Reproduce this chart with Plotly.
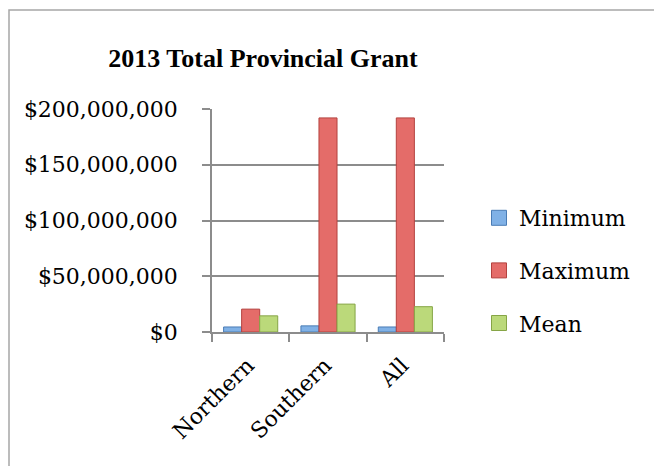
import plotly.graph_objects as go

categories = ["Northern", "Southern", "All"]
series_names = ["Minimum", "Maximum", "Mean"]
minimum = [4_500_000, 5_500_000, 4_500_000]
maximum = [20_500_000, 192_000_000, 192_000_000]
mean = [14_500_000, 25_000_000, 22_700_000]
y_ticks = [0, 50_000_000, 100_000_000, 150_000_000, 200_000_000]
y_tick_labels = ["$0", "$50,000,000", "$100,000,000", "$150,000,000", "$200,000,000"]

fills = ["#80B1E6", "#E46C69", "#BBD97A"]
edges = ["#4A7CB5", "#B4423F", "#86A546"]

W, H = 662, 466
OFF = 8  # page body margin offset
SX0, SX1, SY0, SY1 = 212, 444, 109, 332
L = SX0 - OFF
R = W - (SX1 - OFF)
T = SY0 - OFF
B = H - (SY1 - OFF)
pw, ph = W - L - R, H - T - B

def px(sx):
    return (sx - OFF - L) / pw

def py(sy):
    return (H - B - (sy - OFF)) / ph

fig = go.Figure()
for i, (name, vals) in enumerate(zip(series_names, [minimum, maximum, mean])):
    fig.add_trace(go.Bar(
        x=categories, y=vals, name=name,
        marker=dict(color=fills[i], line=dict(color=edges[i], width=1)),
        showlegend=False,
    ))
for i, name in enumerate(series_names):
    fig.add_trace(go.Scatter(
        x=[None], y=[None], mode="markers", name=name, legendgroup=name,
        marker=dict(symbol="square", size=15, color=fills[i],
                    line=dict(color=edges[i], width=1)),
    ))

font_family = "DejaVu Serif"
fig.update_layout(
    width=W, height=H,
    margin=dict(l=L, r=R, t=T, b=B, autoexpand=False),
    paper_bgcolor="white", plot_bgcolor="white",
    barmode="group", bargap=0.3, bargroupgap=0.0,
    font=dict(family=font_family, size=22, color="black"),
    title=dict(text="<b>2013 Total Provincial Grant</b>",
               font=dict(family="Liberation Serif", size=26, color="black"),
               x=px(263), xref="paper", xanchor="center",
               y=1 - (58 - OFF) / H, yanchor="middle"),
    showlegend=True,
    legend=dict(x=px(479), y=py(197), xanchor="left", yanchor="top",
                traceorder="grouped", tracegroupgap=21,
                font=dict(family=font_family, size=22),
                itemwidth=30, bgcolor="rgba(0,0,0,0)"),
    xaxis=dict(showline=True, linecolor="#8c8c8c", linewidth=1.5,
               ticks="outside", tickson="boundaries", ticklen=8,
               tickcolor="#8c8c8c", tickwidth=1.5, tickangle=-45,
               ticklabelstandoff=10, ticklabelshift=-3, automargin=False,
               tickfont=dict(family=font_family, size=22)),
    yaxis=dict(range=[0, 200_000_000], tickvals=y_ticks, ticktext=y_tick_labels,
               showline=True, linecolor="#8c8c8c", linewidth=1.5,
               showgrid=True, gridcolor="#8c8c8c", gridwidth=1.5,
               ticks="outside", ticklen=8, tickcolor="#8c8c8c", tickwidth=1.5,
               ticklabelstandoff=20, zeroline=False, automargin=False,
               tickfont=dict(family=font_family, size=22)),
    shapes=[dict(type="rect", xref="paper", yref="paper",
                 x0=px(OFF + 1), x1=px(720), y0=py(520), y1=py(10),
                 line=dict(color="#a6a6a6", width=1.5), layer="below")],
)

fig.write_html("out.html")
